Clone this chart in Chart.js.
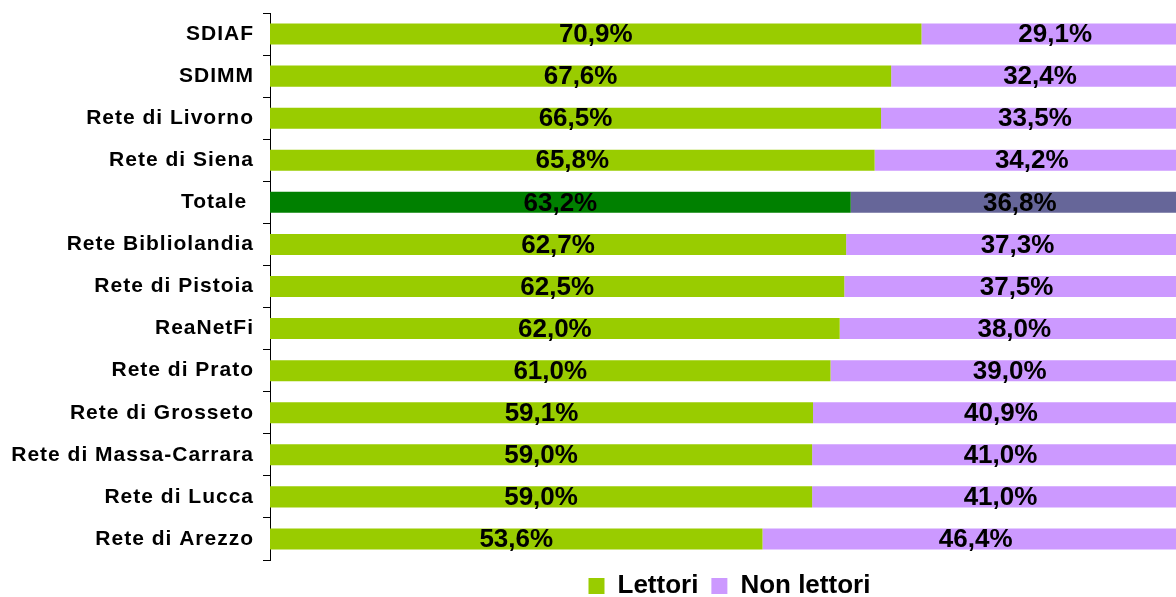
<!DOCTYPE html>
<html>
<head>
<meta charset="utf-8">
<script src="https://cdn.jsdelivr.net/npm/chart.js@4/dist/chart.umd.min.js"></script>
<style>
  html, body { margin: 0; padding: 0; background: #fff; }
  #wrap { width: 1176px; height: 597px; position: relative; }
</style>
</head>
<body>
<div id="wrap"><canvas id="chart"></canvas></div>
<script>
const categories = ['SDIAF', 'SDIMM', 'Rete di Livorno', 'Rete di Siena', 'Totale ', 'Rete Bibliolandia',
  'Rete di Pistoia', 'ReaNetFi', 'Rete di Prato', 'Rete di Grosseto', 'Rete di Massa-Carrara',
  'Rete di Lucca', 'Rete di Arezzo'];
const lettori = [70.9, 67.6, 66.5, 65.8, 63.2, 62.7, 62.5, 62.0, 61.0, 59.1, 59.0, 59.0, 53.6];
const nonLettori = [29.1, 32.4, 33.5, 34.2, 36.8, 37.3, 37.5, 38.0, 39.0, 40.9, 41.0, 41.0, 46.4];
const totalIndex = 4;

const GREEN = '#99cc00', PURPLE = '#cc99ff';
const DARK_GREEN = '#008000', SLATE = '#666699';
const FONT = "'Liberation Sans', Arial, sans-serif";

const fmt = v => v.toFixed(1).replace('.', ',') + '%';

/* percent labels centred on each full segment (the right end runs past the canvas) */
const valueLabels = {
  id: 'valueLabels',
  afterDatasetsDraw(chart) {
    const ctx = chart.ctx;
    ctx.save();
    ctx.font = `bold 26px ${FONT}`;
    ctx.fillStyle = '#000';
    ctx.textAlign = 'center';
    ctx.textBaseline = 'middle';
    chart.data.datasets.forEach((ds, di) => {
      chart.getDatasetMeta(di).data.forEach((bar, i) => {
        ctx.fillText(fmt(ds.data[i]), (bar.x + bar.base) / 2, bar.y + 1);
      });
    });
    ctx.restore();
  }
};

/* legend is centred under the full 0-100% span, not the canvas */
const legendShift = {
  id: 'legendShift',
  afterLayout(chart) {
    const x = chart.scales.x;
    chart.legend.left = x.left;
    chart.legend.right = x.getPixelForValue(100);
  }
};

new Chart(document.getElementById('chart'), {
  type: 'bar',
  data: {
    labels: categories,
    datasets: [
      { label: 'Lettori', data: lettori,
        backgroundColor: lettori.map((v, i) => i === totalIndex ? DARK_GREEN : GREEN) },
      { label: 'Non lettori', data: nonLettori,
        backgroundColor: nonLettori.map((v, i) => i === totalIndex ? SLATE : PURPLE) }
    ]
  },
  options: {
    indexAxis: 'y',
    responsive: true,
    maintainAspectRatio: false,
    animation: false,
    barPercentage: 0.5,
    categoryPercentage: 1,
    layout: { padding: { top: 13, right: 0, bottom: 0, left: 0 } },
    plugins: {
      tooltip: { enabled: false },
      legend: {
        position: 'bottom',
        maxHeight: 37,
        labels: {
          generateLabels: chart => chart.data.datasets.map((ds, i) => ({
            text: ds.label, fillStyle: i === 0 ? GREEN : PURPLE, strokeStyle: i === 0 ? GREEN : PURPLE,
            lineWidth: 0, datasetIndex: i, hidden: false
          })),
          color: '#000',
          boxWidth: 16, boxHeight: 16,
          padding: 13,
          font: { family: FONT, size: 26, weight: 'bold' }
        }
      }
    },
    scales: {
      x: { display: false, stacked: true, min: 0, max: 98.6 },
      y: {
        stacked: true,
        afterFit: s => {
          s.width = 270;
          s.paddingTop = 0;
          s.paddingBottom = 0;
          // category names are drawn slightly letter-spaced
          if (!s._spaced) {
            const draw = s.drawLabels;
            s.drawLabels = function (area) {
              this.ctx.letterSpacing = '1px';
              draw.call(this, area);
              this.ctx.letterSpacing = '0px';
            };
            s._spaced = true;
          }
        },
        border: { display: true, color: '#000', width: 1 },
        grid: { display: true, drawOnChartArea: false, drawTicks: true, tickLength: 7, color: '#000' },
        ticks: { color: '#000', padding: 9, font: { family: FONT, size: 21, weight: 'bold' } }
      }
    }
  },
  plugins: [valueLabels, legendShift]
});
</script>
</body>
</html>
